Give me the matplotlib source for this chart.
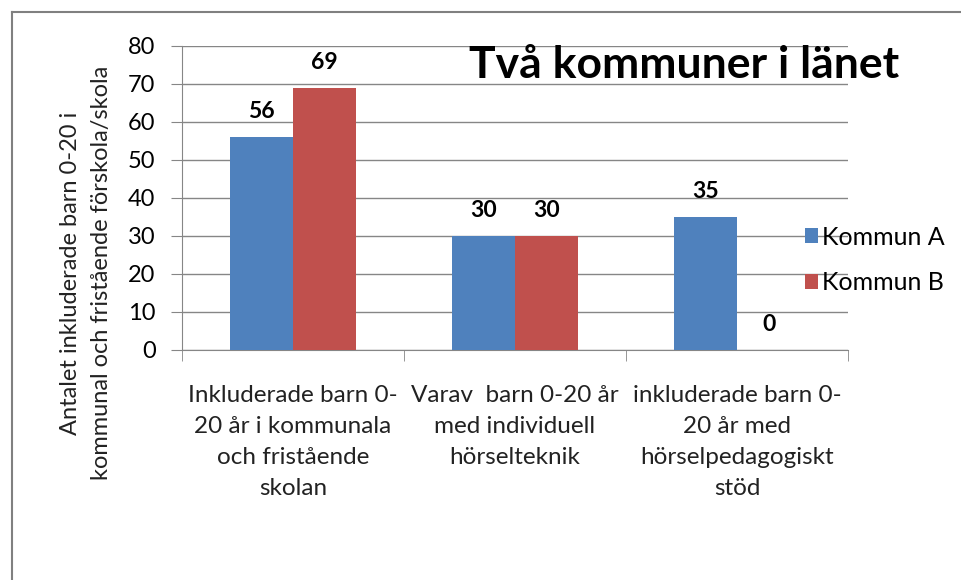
import numpy as np
import matplotlib
matplotlib.use("Agg")
from matplotlib import pyplot as plt
from matplotlib.lines import Line2D

plt.rcParams['font.family'] = ['Lato', 'DejaVu Sans']

# data
categories = ["Inkluderade barn 0-\n20 år i kommunala\noch fristående\nskolan",
              "Varav  barn 0-20 år\nmed individuell\nhörselteknik",
              "inkluderade barn 0-\n20 år med\nhörselpedagogiskt\nstöd"]
kommun_a = [56, 30, 35]
kommun_b = [69, 30, 0]
series_names = ["Kommun A", "Kommun B"]
colors = ["#4F81BD", "#C0504D"]
yticks = [0, 10, 20, 30, 40, 50, 60, 70, 80]

fig = plt.figure(figsize=(9.62, 5.8), dpi=100)
ax = fig.add_axes([182 / 962, 1 - 350 / 580, 666 / 962, 304 / 580])

x = np.arange(len(categories))
w = 0.285
bars_a = ax.bar(x - w / 2, kommun_a, w, color=colors[0], label=series_names[0], zorder=3)
bars_b = ax.bar(x + w / 2, kommun_b, w, color=colors[1], label=series_names[1], zorder=3)

for bars in (bars_a, bars_b):
    for b in bars:
        ax.annotate(str(int(b.get_height())), (b.get_x() + b.get_width() / 2, b.get_height()),
                    xytext=(0, 13.5), textcoords="offset points", ha="center", va="baseline",
                    fontsize=16.5, fontweight="bold", color="black")

ax.set_xlim(-0.5, 2.5)
ax.set_ylim(0, 80)
ax.set_yticks(yticks)
ax.set_yticklabels([str(v) for v in yticks], fontsize=17)
ax.yaxis.grid(True, color="#868686", linewidth=1)
ax.set_axisbelow(True)

ax.set_xticks(x)
ax.set_xticklabels(categories, fontsize=17.5, linespacing=1.6, color="#222222")
ax.tick_params(axis="x", length=0, pad=25)
ax.set_xticks([-0.5, 0.5, 1.5, 2.5], minor=True)
ax.tick_params(axis="x", which="minor", length=8, color="#868686")
ax.tick_params(axis="y", length=8, color="#868686", pad=11)

for s in ["top", "right"]:
    ax.spines[s].set_visible(False)
for s in ["left", "bottom"]:
    ax.spines[s].set_color("#868686")

fig.text(86 / 962, 1 - 273 / 580,
         "Antalet inkluderade barn 0-20 i\nkommunal och fristående förskola/skola",
         rotation=90, ha="center", va="center", fontsize=17, linespacing=1.6, color="#222222")

fig.text(684 / 962, 1 - 65 / 580, "Två kommuner i länet", ha="center", va="center",
         fontsize=32, fontweight="bold")

ax.legend(loc="center left", bbox_to_anchor=(0.92, 0.296), frameon=False, fontsize=18,
          handlelength=0.55, handleheight=0.55, handletextpad=0.15, labelspacing=0.9,
          borderaxespad=0)

# rammen runt diagrammet
fig.add_artist(Line2D([11.5 / 962, 11.5 / 962], [0, 1 - 12 / 580], color="#808080",
                      linewidth=1.5, transform=fig.transFigure))
fig.add_artist(Line2D([11.5 / 962, 1], [1 - 12 / 580, 1 - 12 / 580], color="#808080",
                      linewidth=1.5, transform=fig.transFigure))

fig.savefig("out.png", dpi=100)
